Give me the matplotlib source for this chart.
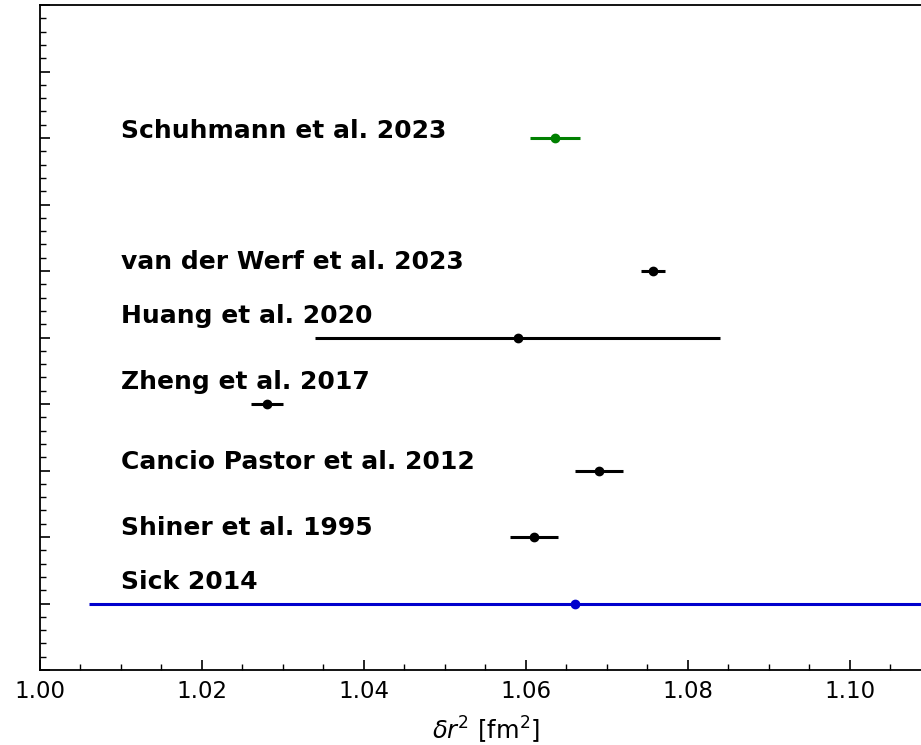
import numpy as np
import matplotlib.pyplot as plt
from matplotlib.ticker import MultipleLocator

# helium isotope shift of the squared charge radius
labels = ['Sick 2014', 'Shiner et al. 1995', 'Cancio Pastor et al. 2012',
          'Zheng et al. 2017', 'Huang et al. 2020', 'van der Werf et al. 2023',
          'Schuhmann et al. 2023']
values = [1.066, 1.061, 1.069, 1.028, 1.059, 1.0757, 1.0636]
errors = [0.060, 0.003, 0.003, 0.002, 0.025, 0.0015, 0.0031]
rows = [0, 1, 2, 3, 4, 5, 7]
label_rows = [0.33, 1.14, 2.13, 3.33, 4.32, 5.13, 7.11]
colors = ['mediumblue', 'k', 'k', 'k', 'k', 'k', 'green']

fig = plt.figure(figsize=(9.21, 7.45), dpi=100)
ax = fig.add_axes([40/921, 75/745, 891/921, 665/745])

for v, e, r, c in zip(values, errors, rows, colors):
    ax.errorbar(v, r, xerr=e, fmt='o', color=c, ms=6, lw=2.2, capsize=0)

for lab, r in zip(labels, label_rows):
    ax.text(1.01, r, lab, fontsize=18, fontweight='bold', va='center')

ax.set_xlim(1.00, 1.11)
ax.set_ylim(-1, 9)
ax.xaxis.set_major_locator(MultipleLocator(0.02))
ax.xaxis.set_minor_locator(MultipleLocator(0.005))
ax.yaxis.set_major_locator(MultipleLocator(1))
ax.yaxis.set_minor_locator(MultipleLocator(0.2))
ax.set_xticks(np.arange(1.00, 1.101, 0.02))
ax.tick_params(which='both', direction='in', labelsize=16.5)
ax.tick_params(which='major', length=7, width=1.2)
ax.tick_params(which='minor', length=4, width=1)
ax.tick_params(axis='y', labelleft=False)
ax.tick_params(axis='x', pad=7)
ax.set_xlabel(r'$\delta r^2$ [fm$^2$]', fontsize=17.5, labelpad=9)
for s in ax.spines.values():
    s.set_linewidth(1.3)

fig.savefig('out.png', dpi=100)
